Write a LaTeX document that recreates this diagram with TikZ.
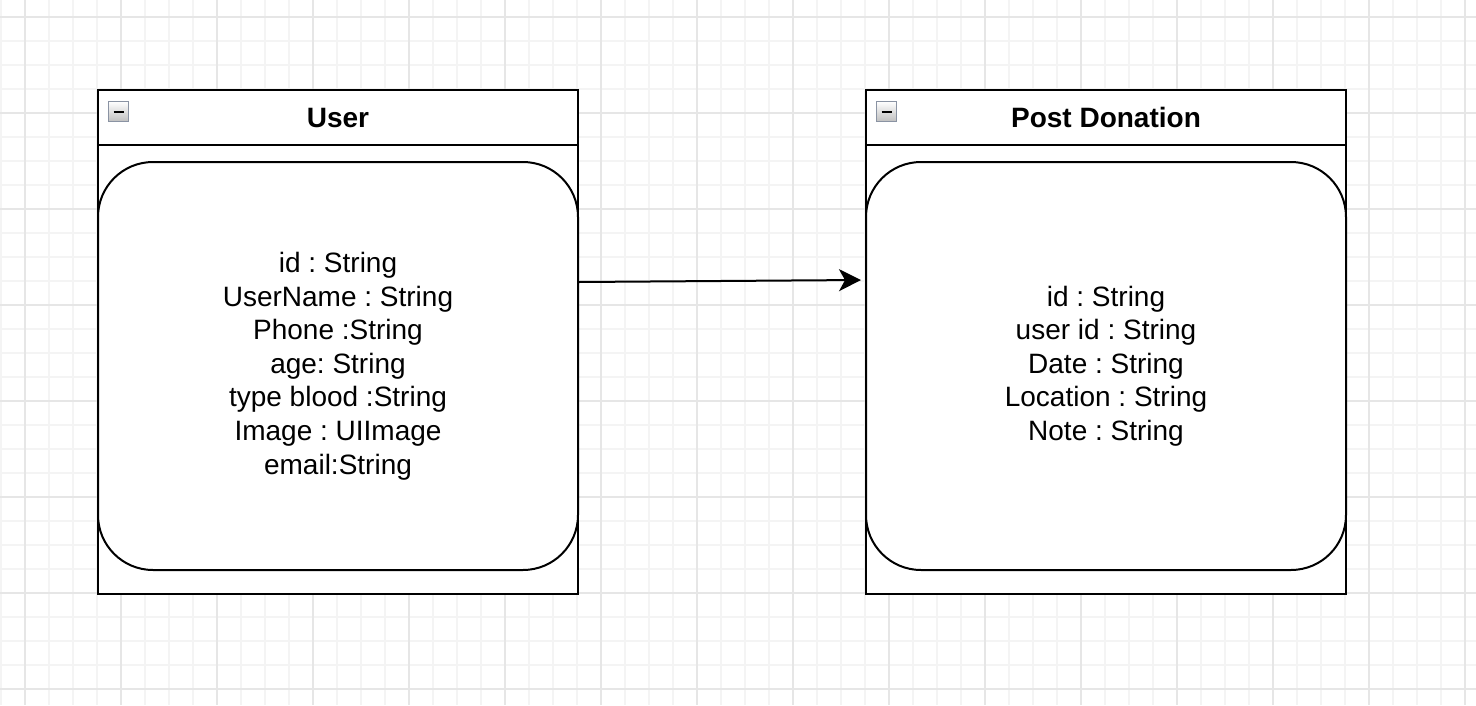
\documentclass[tikz,border=0pt]{standalone}
\usepackage{fontspec}
\setmainfont{Liberation Sans}
\usetikzlibrary{arrows.meta}

\definecolor{gridminor}{HTML}{F4F4F4}
\definecolor{gridmajor}{HTML}{E6E6E6}
\definecolor{iconedge}{HTML}{8A93A3}

\tikzset{
  header/.style={draw, line width=2pt, minimum width=480pt, minimum height=55pt, inner sep=0pt, font=\fontsize{28}{33.6}\selectfont\bfseries},
  frame/.style={draw, line width=2pt, minimum width=480pt, minimum height=449pt, inner sep=0pt},
  fields/.style={draw, line width=2pt, fill=white, rounded corners=55pt, minimum width=480pt, minimum height=408pt, inner sep=0pt, align=center, font=\fontsize{28}{33.6}\selectfont\frenchspacing},
  collapse/.style={draw=iconedge, line width=1.5pt, top color=white, bottom color=gray!50, minimum size=20pt, inner sep=0pt},
  link/.style={-{Stealth[length=22pt, width=22pt, inset=6pt]}, line width=2pt}
}

\begin{document}
\begin{tikzpicture}[x=1pt, y=-1pt]
    \useasboundingbox (0,0) rectangle (1476,705);

    % Grid
    \foreach \gx in {1,25,...,1476} \draw[gridminor, line width=2pt] (\gx,0) -- (\gx,705);
    \foreach \gy in {17,41,...,705} \draw[gridminor, line width=2pt] (0,\gy) -- (1476,\gy);
    \foreach \gx in {25,121,...,1476} \draw[gridmajor, line width=2pt] (\gx,0) -- (\gx,705);
    \foreach \gy in {17,113,...,705} \draw[gridmajor, line width=2pt] (0,\gy) -- (1476,\gy);

    % User
    \node[frame, fill=white] (userframe) at (338,369.5) {};
    \node[header, fill=white] (userhead) at (338,117.5) {User};
    \node[fields] (userbody) at (338,366) {id : String\\UserName : String\\Phone :String\\age: String\\type blood :String\\Image : UIImage\\email:String};
    \node[collapse] (usericon) at (118.5,111.5) {};
    \draw[line width=2pt] ([xshift=-5pt]usericon.center) -- ([xshift=5pt]usericon.center);

    % Post Donation
    \node[frame, fill=white] (postframe) at (1106,369.5) {};
    \node[header, fill=white] (posthead) at (1106,117.5) {Post Donation};
    \node[fields] (postbody) at (1106,366) {id : String\\user id : String\\Date : String\\Location : String\\Note : String};
    \node[collapse] (posticon) at (886.5,111.5) {};
    \draw[line width=2pt] ([xshift=-5pt]posticon.center) -- ([xshift=5pt]posticon.center);

    % Relation
    \draw[link] ([yshift=84pt]userbody.east) -- ([xshift=-4pt, yshift=86pt]postbody.west);
\end{tikzpicture}
\end{document}
